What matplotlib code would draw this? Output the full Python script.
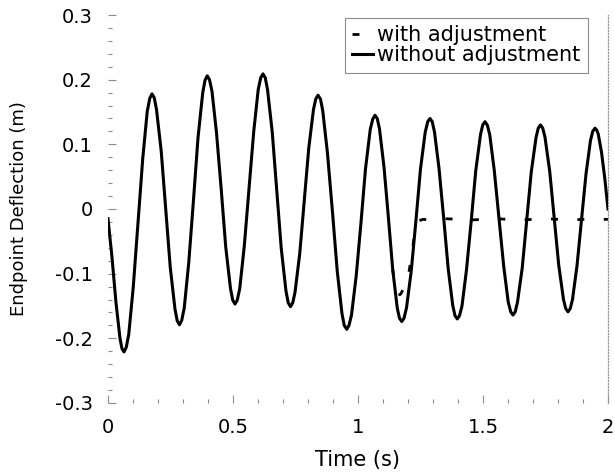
import matplotlib
matplotlib.use("Agg")
import matplotlib.pyplot as plt
from matplotlib.ticker import MultipleLocator

# endpoint deflection, without adjustment
# (one row per half swing, extremum first)
time_without = [
    0.000, 0.016, 0.032, 0.048, 0.056,
    0.064, 0.073, 0.083, 0.101, 0.120, 0.139, 0.157, 0.167,
    0.176, 0.185, 0.194, 0.213, 0.231, 0.249, 0.268, 0.277,
    0.286, 0.295, 0.305, 0.323, 0.342, 0.360, 0.379, 0.388,
    0.397, 0.406, 0.416, 0.434, 0.453, 0.471, 0.490, 0.499,
    0.508, 0.517, 0.527, 0.545, 0.564, 0.583, 0.601, 0.611,
    0.620, 0.629, 0.638, 0.657, 0.675, 0.693, 0.712, 0.721,
    0.730, 0.739, 0.748, 0.767, 0.785, 0.803, 0.822, 0.831,
    0.840, 0.850, 0.859, 0.878, 0.898, 0.917, 0.936, 0.945,
    0.955, 0.964, 0.974, 0.993, 1.012, 1.030, 1.049, 1.059,
    1.068, 1.077, 1.086, 1.104, 1.122, 1.139, 1.157, 1.166,
    1.175, 1.184, 1.194, 1.213, 1.232, 1.250, 1.269, 1.279,
    1.288, 1.297, 1.306, 1.324, 1.343, 1.361, 1.379, 1.388,
    1.397, 1.406, 1.416, 1.434, 1.453, 1.471, 1.490, 1.499,
    1.508, 1.517, 1.527, 1.545, 1.564, 1.583, 1.601, 1.611,
    1.620, 1.629, 1.638, 1.657, 1.675, 1.693, 1.712, 1.721,
    1.730, 1.739, 1.748, 1.767, 1.785, 1.803, 1.822, 1.831,
    1.840, 1.849, 1.858, 1.876, 1.894, 1.912, 1.930, 1.939,
    1.948, 1.955, 1.961, 1.974, 1.987, 2.000,
]
defl_without = [
    -0.015, -0.075, -0.145, -0.200, -0.216,
    -0.221, -0.214, -0.194, -0.121, -0.022, 0.078, 0.151, 0.171,
    0.178, 0.172, 0.154, 0.089, -0.001, -0.090, -0.155, -0.173,
    -0.179, -0.172, -0.153, -0.083, 0.014, 0.110, 0.180, 0.199,
    0.206, 0.200, 0.182, 0.118, 0.030, -0.059, -0.123, -0.141,
    -0.147, -0.141, -0.123, -0.058, 0.031, 0.120, 0.185, 0.203,
    0.209, 0.203, 0.185, 0.119, 0.029, -0.061, -0.127, -0.145,
    -0.151, -0.145, -0.129, -0.069, 0.013, 0.094, 0.154, 0.170,
    0.176, 0.170, 0.152, 0.086, -0.005, -0.096, -0.162, -0.180,
    -0.186, -0.180, -0.164, -0.103, -0.021, 0.062, 0.123, 0.139,
    0.145, 0.140, 0.124, 0.065, -0.015, -0.094, -0.153, -0.169,
    -0.174, -0.169, -0.153, -0.096, -0.017, 0.062, 0.119, 0.135,
    0.140, 0.135, 0.119, 0.063, -0.015, -0.093, -0.149, -0.165,
    -0.170, -0.165, -0.150, -0.094, -0.018, 0.059, 0.115, 0.130,
    0.135, 0.130, 0.115, 0.060, -0.015, -0.089, -0.144, -0.159,
    -0.164, -0.159, -0.144, -0.091, -0.017, 0.057, 0.110, 0.125,
    0.130, 0.125, 0.111, 0.058, -0.015, -0.087, -0.140, -0.154,
    -0.159, -0.154, -0.140, -0.088, -0.017, 0.054, 0.106, 0.120,
    0.125, 0.122, 0.116, 0.088, 0.048, 0.000,
]

# with adjustment: identical up to ~1.14 s, then settles near zero
time_with = [
    1.139, 1.150, 1.160, 1.170, 1.180, 1.192, 1.205, 1.215, 1.225,
    1.235, 1.245, 1.260, 1.300, 1.350, 1.400, 1.450, 1.500, 1.550,
    1.600, 1.650, 1.700, 1.750, 1.800, 1.850, 1.900, 1.950, 2.000,
]
defl_with = [
    -0.094, -0.125, -0.133, -0.132, -0.125, -0.115, -0.095, -0.070, -0.042,
    -0.025, -0.018, -0.016, -0.017, -0.015, -0.016, -0.017, -0.016, -0.015,
    -0.016, -0.017, -0.016, -0.015, -0.016, -0.017, -0.016, -0.016, -0.016,
]

x_ticks = [0, 0.5, 1, 1.5, 2]
x_labels = ["0", "0.5", "1", "1.5", "2"]
y_ticks = [-0.3, -0.2, -0.1, 0, 0.1, 0.2, 0.3]
y_labels = ["-0.3", "-0.2", "-0.1", "0", "0.1", "0.2", "0.3"]

fig = plt.figure(figsize=(6.15, 4.75), dpi=100)
ax = fig.add_axes([0.1756, 0.1516, 0.813, 0.8168])

dashed, = ax.plot(time_with, defl_with, color="black", lw=2.0,
                  dashes=(2.5, 7), label="with adjustment", zorder=2)
solid, = ax.plot(time_without, defl_without, color="black", lw=2.2,
                 solid_joinstyle="round", label="without adjustment", zorder=3)

ax.set_xlim(0, 2)
ax.set_ylim(-0.3, 0.3)
ax.set_xticks(x_ticks, x_labels)
ax.set_yticks(y_ticks, y_labels)
ax.xaxis.set_minor_locator(MultipleLocator(0.1))
ax.yaxis.set_minor_locator(MultipleLocator(0.02))
ax.tick_params(which="both", direction="in", color="0.55", width=0.8,
               labelsize=14, pad=11)
ax.tick_params(which="major", length=6)
ax.tick_params(which="minor", length=3)

for side in ["left", "top", "bottom"]:
    ax.spines[side].set_visible(False)
ax.spines["right"].set_linestyle((0, (1, 1.5)))
ax.spines["right"].set_color("0.6")
ax.spines["right"].set_linewidth(0.9)

ax.set_xlabel("Time (s)", fontsize=15, labelpad=9)
ax.set_ylabel("Endpoint Deflection (m)", fontsize=13, labelpad=19)

leg = ax.legend(handles=[dashed, solid], loc="upper right",
                bbox_to_anchor=(0.96, 0.992), borderaxespad=0, borderpad=0.35,
                labelspacing=0.0, handlelength=1.0, handletextpad=0.2,
                fancybox=False, framealpha=1, fontsize=15)
leg.get_frame().set_edgecolor("0.55")
leg.get_frame().set_linewidth(0.8)

fig.savefig("out.png", dpi=100)
